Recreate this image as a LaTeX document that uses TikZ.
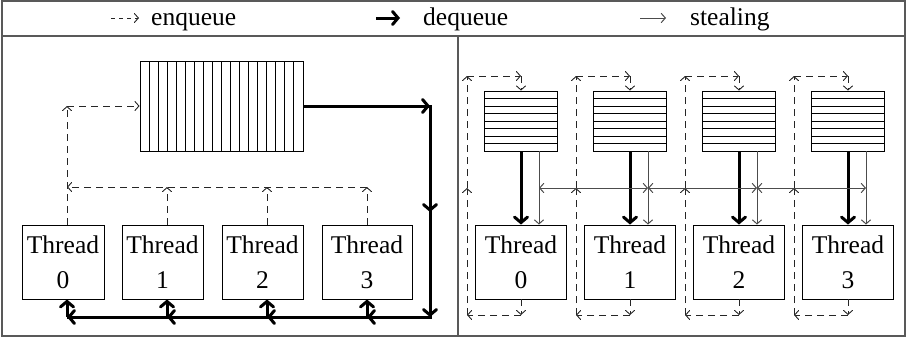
\documentclass[tikz,border=0pt]{standalone}
\usepackage{fontspec}
\setmainfont{Liberation Serif}
\usetikzlibrary{arrows.meta}
\tikzset{
  thn/.tip={Straight Barb[length=4pt,width=9pt,line cap=round]},
  thk/.tip={Straight Barb[length=5.5pt,width=13pt,line cap=round]},
}
\begin{document}
\begin{tikzpicture}[x=1pt,y=-1pt,
  frame/.style={draw=black!65, line width=1.3pt},
  thr/.style={draw, line width=0.9pt, minimum height=74pt, inner sep=0pt, align=center, font=\fontsize{25.5}{35}\selectfont},
  que/.style={draw, line width=0.9pt, inner sep=0pt},
  stripe/.style={line width=0.9pt},
  enq/.style={line width=0.9pt, black!85, dash pattern=on 7pt off 5pt, -thn},
  deq/.style={line width=3pt, -thk},
  deqline/.style={line width=3pt},
  stl/.style={line width=1pt, black!70},
  lab/.style={font=\fontsize{25.5}{30}\selectfont, anchor=base west, inner sep=0pt},
]
\useasboundingbox (0,0) rectangle (907,338);
% frame
\draw[frame] (2,1) rectangle (905,336);
\draw[frame] (2,36) -- (905,36);
\draw[frame] (458,36) -- (458,336);

% legend
\coordinate (e1) at (111,18); \coordinate (e2) at (139,18);
\draw[enq, dash pattern=on 4pt off 4pt] (e1) -- (e2);
\node[lab] (le) at (151,25) {enqueue};
\coordinate (d1) at (376,18); \coordinate (d2) at (400,18);
\draw[deq] (d1) -- (d2);
\node[lab] (ld) at (423,25) {dequeue};
\coordinate (s1l) at (640,18); \coordinate (s2l) at (666,18);
\draw[stl, -thn] (s1l) -- (s2l);
\node[lab] (ls) at (690,25) {stealing};

% ---------- left panel ----------
\node[que, minimum width=163pt, minimum height=90pt] (Q) at (221.5,106) {};
\foreach \i in {1,...,17} \draw[stripe] ({140+\i*163/18},61) -- ({140+\i*163/18},151);

\node[thr, minimum width=82pt] (A0) at (63,262) {Thread\\0};
\node[thr, minimum width=81pt] (A1) at (162.5,262) {Thread\\1};
\node[thr, minimum width=81pt] (A2) at (262.5,262) {Thread\\2};
\node[thr, minimum width=90pt] (A3) at (367,262) {Thread\\3};

\coordinate (ka) at (430,106);
\coordinate (kb) at (430,212);
\coordinate (kc) at (430,317);
\coordinate (eq) at (67,106);
\foreach \i/\x in {0/67,1/167,2/267,3/367} {
  \coordinate (b\i) at (\x,317);
  \coordinate (h\i) at (\x,187);
}

% dequeue (thick)
\draw[deqline] (Q.east) -- (ka) -- (kc) -- (b0);
\draw[deq] (Q.east) -- (ka);
\draw[deq] (ka) -- (kb);
\draw[deq] (kb) -- (kc);
\draw[deq] (kc) -- (b3);
\draw[deq] (b3) -- (b2);
\draw[deq] (b2) -- (b1);
\draw[deq] (b1) -- (b0);
\foreach \i in {0,...,3} \draw[deq] (b\i) -- (b\i |- A\i.south);

% enqueue (dashed)
\draw[enq] (A0.north -| eq) -- (eq);
\draw[enq] (eq) -- (Q.west);
\foreach \i in {1,2,3} \draw[enq] (A\i.north -| h\i) -- (h\i);
\draw[enq] (h3) -- (h0);

% ---------- right panel ----------
\foreach \i in {0,...,3} {
  \pgfmathsetmacro\cx{521+109*\i}
  \node[que, minimum width=73pt, minimum height=60pt] (R\i) at (\cx,121) {};
  \foreach \j in {1,...,7} \draw[stripe] ({\cx-36.5},{91+7.5*\j}) -- ({\cx+36.5},{91+7.5*\j});
  \node[thr, minimum width=91pt] (B\i) at (\cx,262) {Thread\\\i};
  \coordinate (u\i) at (\cx,315);
  \coordinate (v\i) at ({\cx-54},315);
  \coordinate (w\i) at ({\cx-54},188);
  \coordinate (p\i) at ({\cx-54},76);
  \coordinate (q\i) at (\cx,76);
  \coordinate (s\i) at ({\cx+18},188);
  \draw[enq] (B\i.south) -- (u\i);
  \draw[enq] (u\i) -- (v\i);
  \draw[enq] (v\i) -- (w\i);
  \draw[enq] (w\i) -- (p\i);
  \draw[enq] (p\i) -- (q\i);
  \draw[enq] (q\i) -- (R\i.north);
  \draw[deq] (R\i.south) -- (B\i.north);
  \draw[stl, -thn] (R\i.south -| s\i) -- (B\i.north -| s\i);
}
\draw[stl, thn-thn] (s0) -- (s1);
\draw[stl, thn-thn] (s1) -- (s2);
\draw[stl, thn-thn] (s2) -- (s3);
\end{tikzpicture}
\end{document}
